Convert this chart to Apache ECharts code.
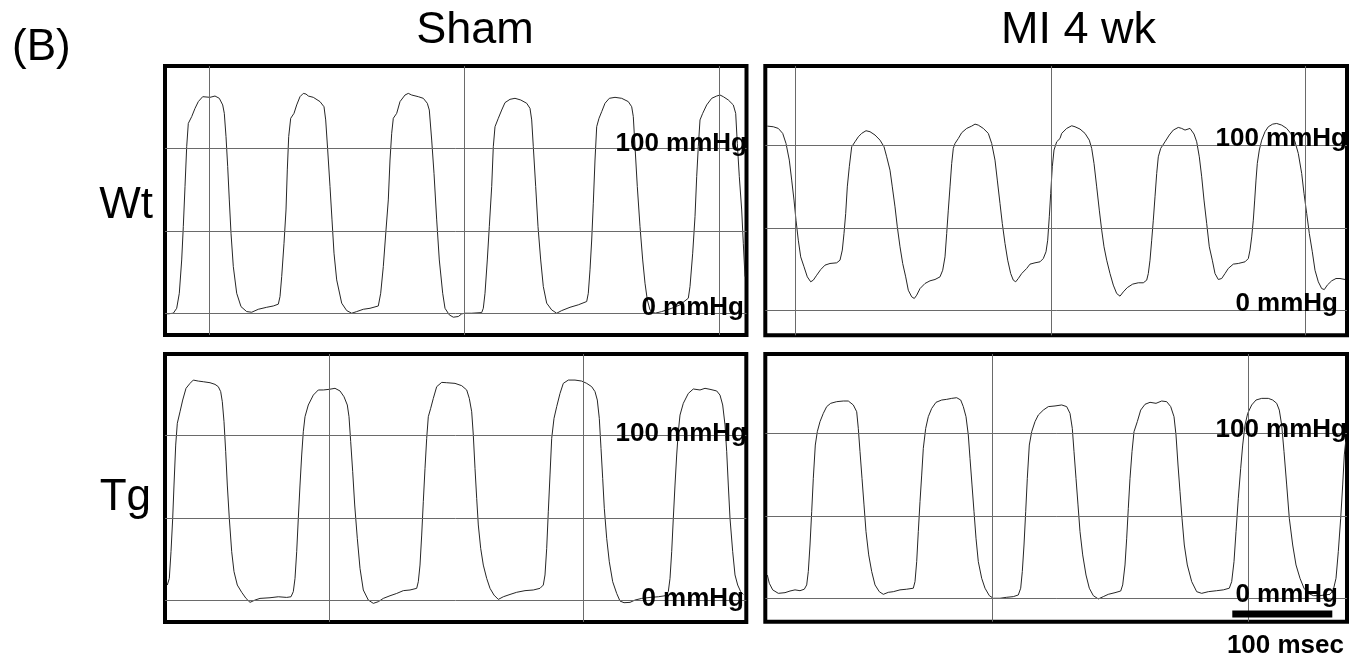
<!DOCTYPE html>
<html>
<head>
<meta charset="utf-8">
<script src="https://cdn.jsdelivr.net/npm/echarts@6/dist/echarts.min.js"></script>
<style>
html,body{margin:0;padding:0;background:#fff;}
#chart{width:1356px;height:661px;}
</style>
</head>
<body>
<div id="chart"></div>
<script>
// ---- Data: time in msec, pressure in mmHg ----
const columnTitles = ['Sham', 'MI 4 wk'];
const rowTitles = ['Wt', 'Tg'];
const panelLabel = '(B)';
const pressureTicks = [0, 50, 100];
const pressureLabels = ['0 mmHg', '100 mmHg'];
const scaleBarMs = 100;
const scaleBarLabel = '100 msec';

// vertical grid line positions (msec) per panel
const timeGridShamWt = [44.3, 299, 554.3];
const timeGridMiWt = [29.7, 285.7, 540.4];
const timeGridShamTg = [164.7, 418.3];
const timeGridMiTg = [227.4, 483];

const shamWt = [
[2.3,-0.4],[8.3,0],[11.7,3.0],[14.3,12.1],[16.7,32.3],[18.3,52.5],[20,76.8],[21.7,101],[23.3,115.1],[26.7,119.2],[30,124.2],[33.3,128.3],[37.7,131.3],[45,130.9],[50,131.7],[54.3,130.3],[57.7,126.3],[59.3,121.2],[61,107.1],[62.7,88.9],[64.3,68.7],[66,48.5],[68.3,28.3],[71.7,12.1],[76,4.0],[81.7,1.0],[86.7,0.6],[93.3,2.4],[101.7,3.6],[108.3,4.4],[113.3,5.5],[115,10.1],[116.7,22.2],[119,42.4],[121,62.6],[122.3,86.9],[123.7,107.1],[125.7,118.2],[129,121.2],[131.7,126.3],[135,131.3],[138.3,133.3],[141,132.9],[143.3,131.7],[148.3,130.9],[155,128.3],[159,125.2],[160.7,117.2],[162.7,99.0],[165,76.8],[167,56.6],[169,36.4],[171.7,20.2],[176.7,6.1],[181.7,1.6],[186.7,0],[191.7,1.0],[198.3,2.4],[205,3.0],[213.3,4.4],[215.7,12.1],[218.3,28.3],[221,50.5],[223.3,68.7],[225,92.9],[226.7,109.1],[228.3,118.2],[231.7,121.2],[235,128.3],[240,132.3],[243.3,133.3],[246.7,132.3],[253.3,131.3],[258.3,130.3],[262.3,127.3],[264.3,123.2],[266.7,105.0],[269,84.8],[271.7,56.6],[274.3,32.3],[277.7,12.1],[280,3.0],[284.3,-1.0],[288.3,-2.4],[293.3,-2.0],[296.7,-0.4],[300,0],[306.7,0],[316.7,0.4],[318.3,3.0],[320,12.1],[322.3,32.3],[324.3,52.5],[326.7,76.8],[328.3,101],[330,113.1],[333.3,118.2],[336.7,123.2],[340,127.7],[345,129.7],[350,130.3],[355.7,129.3],[361.7,127.3],[365,124.2],[366.7,117.2],[368.3,101],[370.7,76.8],[373,52.5],[375.7,32.3],[378.3,16.2],[381.7,6.1],[386.7,2.0],[391.7,0],[396.7,1.6],[405,3.6],[413.3,5.1],[421.7,7.1],[423.3,12.1],[425,26.3],[426.7,44.4],[428.3,66.7],[430,92.9],[431.7,113.1],[434,118.2],[436.7,122.2],[440,127.3],[444.3,130.3],[450,130.9],[456.7,130.3],[463.3,128.3],[466.7,125.2],[468.3,119.2],[470,101],[472.3,76.8],[475,52.5],[477.7,32.3],[480,18.2],[482.3,8.1],[485,2.0],[490,0],[496.7,1.0],[506.7,3.0],[515,5.1],[523.3,9.1],[525,16.2],[527.7,36.4],[530,58.6],[531.7,82.8],[533.3,101],[535,117.2],[537.7,121.2],[541.7,126.3],[546.7,130.3],[551.7,131.7],[555,132.3],[558.3,131.3],[563.3,129.3],[568.3,126.3],[570.7,121.2],[572.3,103],[574.3,82.8],[576.7,62.6],[578.3,42.4],[580,22.2]
];

const miWt = [
[2.0,111.7],[8.0,111.3],[13.0,110.3],[17.4,107.3],[20.7,101.2],[24.0,91.1],[26.4,79.0],[28.7,66.9],[30.7,54.7],[33.0,42.6],[35.4,32.5],[38.7,26.5],[42.0,20.4],[45.4,17.4],[48.0,18.4],[51.4,21.4],[55.4,24.8],[59.7,27.5],[64.7,28.5],[71.4,28.9],[74.7,30.5],[77.0,36.6],[78.7,46.7],[80.4,58.8],[82.0,74.9],[84.0,87.1],[86.4,99.2],[89.7,102.2],[93.0,105.2],[96.4,107.3],[100.7,108.9],[104.7,108.3],[109.7,106.3],[114.7,103.2],[118.7,99.2],[121.4,93.1],[124.7,85.0],[127.0,74.9],[129.7,62.8],[132.0,50.7],[134.7,38.6],[137.4,28.5],[140.4,20.4],[143.0,12.3],[146.4,8.3],[149.0,7.3],[151.4,9.3],[154.7,13.3],[159.7,16.4],[164.7,18.0],[169.7,18.8],[174.7,20.4],[177.4,24.4],[179.7,32.5],[181.4,46.7],[183.0,60.8],[184.7,74.9],[186.4,89.1],[188.0,98.2],[189.7,101.2],[193.0,104.2],[196.4,107.7],[201.4,110.3],[206.4,111.7],[209.7,112.9],[213.0,112.3],[218.0,110.3],[223.0,107.3],[226.4,101.2],[229.7,91.1],[232.0,79.0],[234.7,64.8],[237.0,52.7],[239.7,40.6],[242.4,30.5],[245.4,22.4],[248.0,18.4],[250.4,17.4],[253.0,19.4],[256.4,22.4],[261.4,25.5],[264.7,28.1],[269.7,28.9],[274.7,29.5],[278.0,31.5],[280.7,35.6],[282.4,42.6],[284.0,56.8],[285.4,70.9],[287.0,87.1],[288.7,97.2],[291.4,102.2],[294.7,104.2],[296.4,107.3],[301.4,110.3],[306.4,111.9],[309.7,111.3],[314.7,109.9],[319.7,107.3],[324.0,103.2],[326.4,98.2],[328.7,89.1],[331.4,74.9],[334.0,60.8],[336.4,48.7],[338.7,38.6],[341.4,30.5],[344.7,22.4],[348.0,15.4],[351.4,10.3],[354.7,8.7],[358.0,11.3],[362.0,13.9],[367.4,16.0],[373.0,16.8],[378.0,16.8],[381.4,18.4],[383.0,22.4],[384.7,30.5],[386.4,42.6],[388.0,54.7],[389.7,68.9],[391.4,83.0],[393.0,93.1],[395.4,98.2],[399.7,102.2],[404.0,106.3],[408.0,109.3],[413.0,110.9],[416.4,110.3],[419.7,109.3],[424.7,110.3],[428.7,106.9],[431.4,102.2],[434.0,93.1],[436.4,81.0],[438.7,66.9],[441.4,52.7],[444.0,38.6],[447.0,30.5],[449.7,22.4],[453.0,18.8],[456.4,19.4],[459.7,22.4],[463.0,25.5],[468.0,28.1],[473.0,28.5],[479.7,29.5],[483.0,31.5],[484.7,36.6],[486.4,44.6],[488.0,54.7],[489.4,66.9],[490.7,79.0],[492.0,89.1],[494.0,97.2],[496.4,103.2],[499.7,108.3],[503.0,111.3],[507.4,112.9],[511.4,113.3],[516.4,112.3],[521.4,110.3],[525.4,107.3],[529.7,102.2],[533.0,95.1],[536.4,83.0],[538.7,70.9],[541.4,58.8],[544.0,46.7],[547.0,35.6],[549.7,24.4],[553.0,17.4],[556.4,13.3],[559.0,12.7],[562.0,15.4],[566.4,18.0],[570.7,19.4],[574.7,19.4],[579.7,18.8]
];

const shamTg = [
[2.3,9.5],[4.3,13.5],[6.0,29.7],[7.7,49.9],[9.0,70.1],[10.7,94.3],[12.3,107.5],[15.0,114.5],[17.7,121.6],[21.0,128.7],[25.0,131.7],[28.3,133.7],[33.3,133.1],[38.3,132.7],[45.0,132.1],[50.0,131.1],[53.3,129.7],[55.7,126.7],[57.3,120.6],[59.0,108.5],[60.7,90.3],[62.3,70.1],[64.3,49.9],[66.7,29.7],[69.0,17.6],[72.3,9.5],[76.7,5.1],[81.0,1.4],[85.0,-1.0],[90.0,0.4],[95.0,1.4],[105.0,1.8],[113.3,2.4],[121.7,2.0],[126.0,2.4],[128.3,5.5],[130.0,13.5],[131.7,29.7],[133.3,49.9],[135.0,70.1],[136.7,88.3],[138.3,102.4],[140.0,111.5],[143.3,118.6],[148.3,124.6],[153.3,127.7],[158.3,127.7],[164.3,128.1],[170.0,128.7],[175.0,127.1],[179.0,123.6],[182.3,118.6],[184.0,111.5],[185.7,96.4],[187.7,78.2],[189.7,58.0],[192.3,37.8],[195.0,19.6],[198.3,6.5],[203.3,0.4],[208.3,-1.6],[213.3,-0.6],[218.3,1.4],[225.0,3.0],[231.7,4.4],[238.3,6.1],[245.0,6.5],[251.7,7.5],[253.3,11.5],[255.0,21.6],[256.7,39.8],[258.3,60.0],[260.0,80.2],[261.7,98.4],[263.3,111.5],[265.7,116.6],[268.3,122.6],[271.7,129.7],[276.7,132.3],[281.7,132.1],[290.0,131.7],[296.7,130.3],[301.7,127.7],[304.3,122.6],[306.7,114.5],[308.3,100.4],[310.0,80.2],[311.7,62.0],[313.3,45.9],[315.7,31.7],[318.3,21.6],[321.7,13.5],[325.0,7.5],[329.0,3.4],[333.3,0.8],[338.3,2.4],[345.0,3.8],[351.7,5.1],[360.0,6.1],[368.3,6.5],[375.0,7.5],[378.3,9.5],[380.0,15.6],[381.7,31.7],[383.3,53.9],[385.0,76.2],[386.7,98.4],[389.0,110.5],[391.7,117.6],[395.0,125.6],[398.3,131.7],[403.3,133.7],[410.0,133.7],[416.7,133.1],[421.7,131.7],[426.7,129.7],[430.0,126.7],[432.3,121.6],[434.3,110.5],[436.0,92.3],[437.7,74.1],[439.3,56.0],[441.7,37.8],[444.3,23.6],[447.7,11.5],[451.7,4.4],[455.0,-0.2],[459.0,-1.2],[465.0,-1.0],[470.0,0.4],[476.7,1.4],[485.0,2.0],[493.3,2.4],[500.0,3.0],[503.3,5.5],[505.0,13.5],[506.7,29.7],[508.3,49.9],[510.0,70.1],[511.7,88.3],[513.3,102.4],[515.0,112.5],[518.3,119.6],[523.3,125.6],[528.3,128.3],[535.0,127.7],[540.0,128.7],[545.0,128.1],[551.7,127.1],[555.0,124.6],[557.7,118.6],[560.0,106.5],[561.7,90.3],[563.3,70.1],[565.0,49.9],[567.7,29.7],[570.0,15.6],[572.7,9.5],[575.7,5.5],[578.3,3.8]
];

const miTg = [
[2.0,14.1],[4.0,9.1],[7.4,5.1],[13.0,3.0],[19.7,3.4],[24.7,4.4],[29.7,5.1],[34.7,4.6],[39.0,5.5],[41.4,8.1],[43.0,16.2],[44.7,32.3],[46.4,52.5],[48.0,72.7],[50.0,92.9],[52.0,101.0],[54.7,107.1],[58.0,112.1],[61.4,116.2],[65.4,118.2],[71.4,119.2],[78.0,119.6],[83.0,119.6],[88.0,117.2],[91.4,113.1],[93.0,103.0],[94.7,88.9],[96.7,72.7],[98.7,56.6],[100.7,40.4],[103.4,26.3],[106.4,16.2],[109.7,8.1],[114.0,4.0],[118.0,2.4],[123.0,3.6],[128.0,4.0],[134.7,5.1],[141.4,5.5],[148.0,6.1],[149.7,10.1],[151.4,22.2],[153.0,40.4],[154.7,58.6],[156.4,74.7],[158.0,90.9],[160.4,103.0],[163.0,110.1],[166.4,115.1],[170.7,118.8],[176.4,120.2],[181.4,120.6],[186.4,121.2],[191.4,121.6],[195.4,120.2],[198.0,116.2],[200.7,110.1],[203.0,99.0],[204.7,84.8],[206.7,68.7],[208.7,52.5],[210.7,36.4],[213.0,22.2],[216.4,12.1],[219.7,6.1],[224.0,1.6],[228.0,0],[234.7,0],[241.4,0.6],[248.0,1.0],[253.0,2.0],[255.4,6.1],[257.0,16.2],[258.7,32.3],[260.4,52.5],[262.0,72.7],[264.0,92.9],[266.4,101.0],[269.7,107.1],[273.0,111.1],[278.0,114.1],[283.0,116.2],[289.7,116.6],[296.4,117.2],[301.4,116.2],[304.7,112.1],[307.0,103.0],[308.7,88.9],[310.7,72.7],[312.7,56.6],[314.7,40.4],[317.4,26.3],[320.7,14.1],[324.0,6.1],[328.0,1.6],[333.0,-0.4],[338.0,1.0],[343.0,2.4],[349.7,3.4],[355.4,4.4],[357.4,8.1],[359.7,20.2],[361.4,36.4],[363.0,54.5],[364.7,72.7],[366.7,88.9],[368.7,101.0],[372.0,107.1],[375.4,114.1],[379.7,117.6],[384.7,118.8],[390.7,118.2],[396.4,119.6],[401.4,119.2],[405.4,116.2],[408.7,110.1],[410.7,99.0],[412.7,80.8],[414.7,64.6],[416.7,48.5],[419.0,32.3],[422.0,20.2],[426.4,10.1],[431.4,4.0],[436.4,3.0],[443.0,4.0],[451.4,4.6],[458.0,5.1],[464.0,6.1],[466.4,10.1],[468.7,22.2],[470.7,40.4],[473.0,60.6],[475.4,78.8],[477.4,92.9],[479.7,105.0],[482.4,112.1],[486.4,117.2],[490.7,120.2],[496.4,121.2],[503.0,121.2],[507.4,120.2],[511.4,118.2],[514.0,114.1],[516.4,105.0],[518.7,88.9],[521.4,68.7],[524.0,48.5],[527.4,32.3],[530.7,20.2],[534.7,12.1],[538.7,6.1],[543.0,3.0],[548.0,1.6],[554.7,1.6],[564.7,2.4],[568.0,5.1],[570.7,12.1],[573.0,28.3],[575.4,48.5],[577.4,68.7],[579.0,86.9],[580.4,95.0]
];

// scale bar placement (msec start, mmHg level) in the MI / Tg panel
const scaleBarStart = 467;
const scaleBarLevel = -9.6;

// ---- Layout ----
const panels = [
  {data: shamWt, tgrid: timeGridShamWt, left:165,   top:66,  width:581.5, height:269,   ymin:-13.2, ymax:149.9},
  {data: miWt,   tgrid: timeGridMiWt,   left:765.3, top:66,  width:581.7, height:269.3, ymin:-15.0, ymax:148.1},
  {data: shamTg, tgrid: timeGridShamTg, left:165,   top:354, width:581.3, height:268,   ymin:-12.9, ymax:149.5},
  {data: miTg,   tgrid: timeGridMiTg,   left:765.3, top:354, width:581.7, height:267.7, ymin:-14.2, ymax:148.1}
];

const grids = [], xAxes = [], yAxes = [], series = [];
panels.forEach((p, i) => {
  grids.push({left:p.left, top:p.top, width:p.width, height:p.height, show:true,
    borderColor:'#000', borderWidth:4, backgroundColor:'transparent', containLabel:false});
  xAxes.push({type:'value', gridIndex:i, min:0, max:p.width, show:false});
  yAxes.push({type:'value', gridIndex:i, min:p.ymin, max:p.ymax, show:false});
  const ml = pressureTicks.map(v => ({yAxis:v})).concat(p.tgrid.map(v => ({xAxis:v})));
  series.push({
    type:'line', xAxisIndex:i, yAxisIndex:i, data:p.data, showSymbol:false, symbol:'none',
    smooth:false, clip:true, silent:true, animation:false,
    lineStyle:{color:'#262626', width:1},
    markLine:{silent:true, symbol:['none','none'], animation:false, label:{show:false},
      lineStyle:{type:'solid', color:'#6a6a6a', width:1}, emphasis:{disabled:true}, data:ml}
  });
});
// scale bar
series.push({
  type:'line', xAxisIndex:3, yAxisIndex:3, showSymbol:false, symbol:'none', silent:true, animation:false,
  clip:false, z:5,
  data:[[scaleBarStart, scaleBarLevel],[scaleBarStart + scaleBarMs, scaleBarLevel]],
  lineStyle:{color:'#000', width:7, cap:'butt'}
});

const bigFont = '45px "Liberation Sans", Arial, Helvetica, sans-serif';
const labFont = 'bold 26px "Liberation Sans", Arial, Helvetica, sans-serif';
function txt(text, x, y, font, align) {
  return {type:'text', z:100, silent:true,
    style:{text:text, x:x, y:y, font:font, fill:'#000', textAlign:align, textVerticalAlign:'middle'}};
}
const graphics = [
  txt(panelLabel, 12, 48, '44px "Liberation Sans", Arial, Helvetica, sans-serif', 'left'),
  txt(columnTitles[0], 475, 31, bigFont, 'center'),
  txt(columnTitles[1], 1001, 31, bigFont, 'left'),
  txt(rowTitles[0], 153, 206, '44px "Liberation Sans", Arial, Helvetica, sans-serif', 'right'),
  txt(rowTitles[1], 151, 498, '44px "Liberation Sans", Arial, Helvetica, sans-serif', 'right'),
  // TL
  txt(pressureLabels[1], 747, 143.5, labFont, 'right'),
  txt(pressureLabels[0], 744, 307.5, labFont, 'right'),
  // TR
  txt(pressureLabels[1], 1347, 139, labFont, 'right'),
  txt(pressureLabels[0], 1338, 303.5, labFont, 'right'),
  // BL
  txt(pressureLabels[1], 747, 433.5, labFont, 'right'),
  txt(pressureLabels[0], 744, 599, labFont, 'right'),
  // BR
  txt(pressureLabels[1], 1347, 430, labFont, 'right'),
  txt(pressureLabels[0], 1338, 594.5, labFont, 'right'),
  txt(scaleBarLabel, 1344, 646, 'bold 26px "Liberation Sans", Arial, Helvetica, sans-serif', 'right')
];

const chart = echarts.init(document.getElementById('chart'), null, {renderer:'canvas'});
chart.setOption({
  animation:false,
  backgroundColor:'#fff',
  grid:grids, xAxis:xAxes, yAxis:yAxes, series:series,
  graphic:graphics,
  tooltip:{show:false}
});
</script>
</body>
</html>
